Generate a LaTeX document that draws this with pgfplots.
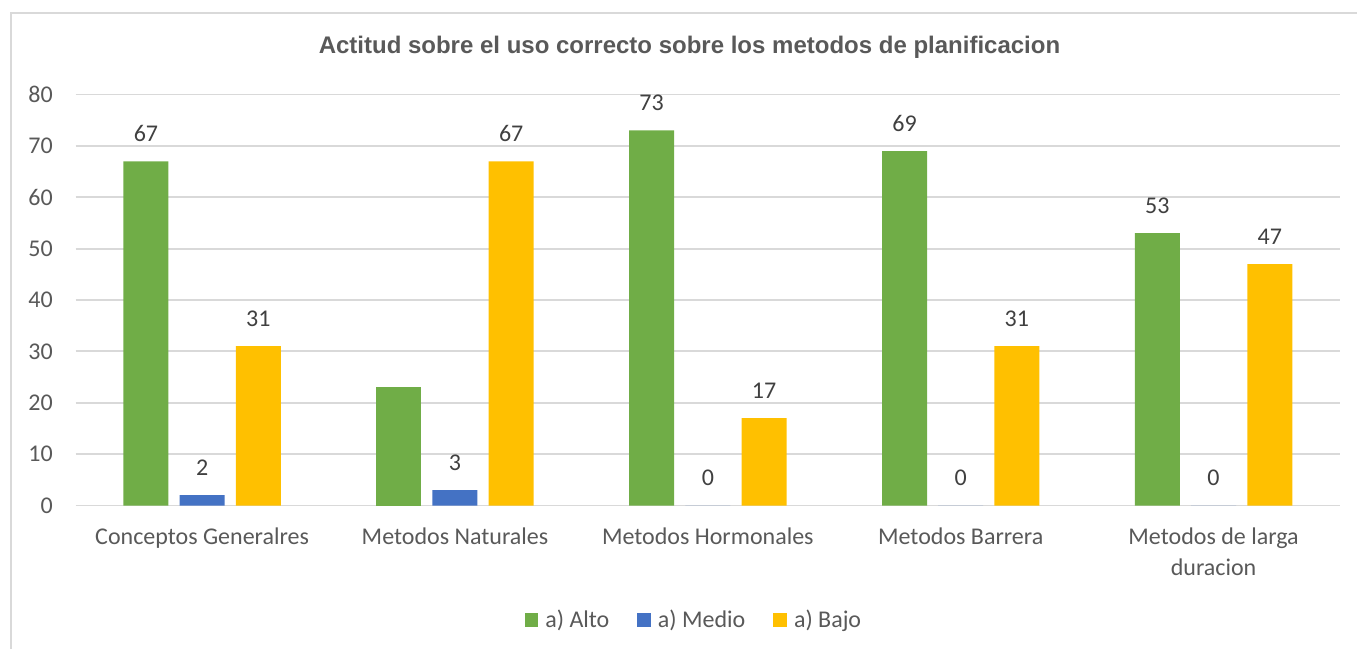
\documentclass[border=0pt]{standalone}
\usepackage{pgfplots}
\pgfplotsset{compat=1.18}
\usepackage{fontspec}
\setmainfont{Carlito}
\newfontfamily\titlefont{Liberation Sans}
\definecolor{altoc}{HTML}{70AD47}
\definecolor{medioc}{HTML}{4472C4}
\definecolor{bajoc}{HTML}{FFC000}
\definecolor{gridc}{HTML}{D9D9D9}
\definecolor{framec}{HTML}{D9D9D9}
\definecolor{tickc}{HTML}{595959}
\definecolor{labc}{HTML}{404040}
\pgfplotsset{sqleg/.style={legend image code/.code={\fill[##1] (0pt,-3.4pt) rectangle (6.8pt,3.4pt);}}}
\newcommand\lblfont{\fontsize{12}{15.3}\selectfont}

\begin{document}
\begin{tikzpicture}
\useasboundingbox (-37.85pt,-71.75pt) rectangle (640.65pt,252.75pt);
\draw[framec, line width=0.8pt] (-32.35pt,-71.75pt) -- (-32.35pt,246.1pt) -- (640.65pt,246.1pt);
\node[anchor=base, font=\titlefont\bfseries\fontsize{12}{14}\selectfont, text=tickc]
  at (306.9pt,226.1pt) {Actitud sobre el uso correcto sobre los metodos de planificacion};
\begin{axis}[
  at={(0,0)}, anchor=south west, scale only axis,
  width=632.15pt, height=205.5pt,
  ybar, bar width=22.5pt,
  xmin=-0.5, xmax=4.5, ymin=0, ymax=80,
  ytick={0,10,...,80},
  xtick={0,...,4},
  xticklabels={Conceptos Generalres, Metodos Naturales, Metodos Hormonales, Metodos Barrera, {Metodos de larga\\duracion}},
  axis line style={draw=none}, major tick length=0pt,
  ymajorgrids, grid style={gridc, line width=0.9pt},
  tick label style={font=\lblfont, text=tickc, inner sep=0pt},
  yticklabel style={anchor=east, xshift=-11.3pt},
  xticklabel style={anchor=north, yshift=-11pt, align=center},
  /pgf/number format/assume math mode=true,
  every node near coord/.append style={font=\lblfont, text=labc, inner sep=0pt, yshift=9.5pt},
  legend columns=3,
  legend style={draw=none, at={(0.489,-0.279)}, anchor=center, font=\lblfont, text=tickc,
    nodes={inner sep=1pt},
    /tikz/every odd column/.append style={column sep=2.5pt},
    /tikz/every even column/.append style={column sep=13pt}},
]
\addplot[fill=altoc, draw=none, bar shift=-28.1pt, sqleg, nodes near coords]
  coordinates {(0,67) (2,73) (3,69) (4,53)};
\addplot[fill=medioc, draw=none, bar shift=0pt, sqleg, nodes near coords]
  coordinates {(0,2) (1,3) (2,0) (3,0) (4,0)};
\addplot[fill=bajoc, draw=none, bar shift=28.1pt, sqleg, nodes near coords]
  coordinates {(0,31) (1,67) (2,17) (3,31) (4,47)};
\addplot[fill=altoc, draw=none, bar shift=-28.1pt, forget plot]
  coordinates {(1,23)};
\legend{a) Alto, a) Medio, a) Bajo}
\end{axis}
\end{tikzpicture}
\end{document}
